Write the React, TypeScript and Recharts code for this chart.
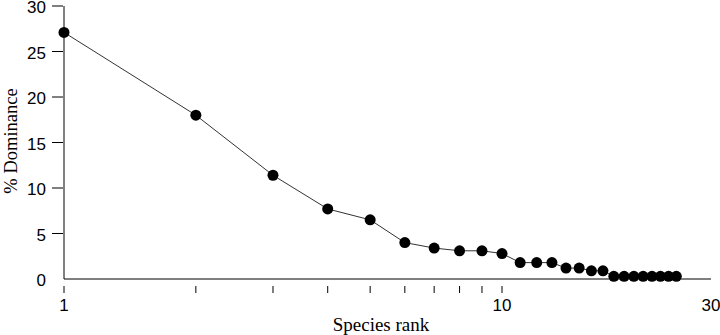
import { Line, LineChart, XAxis, YAxis } from 'recharts';

const ranks = [1, 2, 3, 4, 5, 6, 7, 8, 9, 10, 11, 12, 13, 14, 15, 16, 17, 18, 19, 20, 21, 22, 23, 24, 25];
const dominance = [27.1, 18.0, 11.4, 7.7, 6.5, 4.0, 3.4, 3.1, 3.1, 2.8, 1.8, 1.8, 1.8, 1.2, 1.2, 0.9, 0.9, 0.3, 0.3, 0.3, 0.3, 0.3, 0.3, 0.3, 0.3];
const xTicks = [1, 2, 3, 4, 5, 6, 7, 8, 9, 10, 30];
const xLabelled = [1, 10, 30];
const yTicks = [0, 5, 10, 15, 20, 25, 30];

const data = ranks.map((rank, i) => ({ rank, value: dominance[i] }));

const XTick = (props: any) => {
  const { x, y, payload } = props;
  const v = payload.value;
  return (
    <g>
      {v !== 30 && <line x1={x} x2={x} y1={y - 1} y2={y + 6} stroke="#000" strokeWidth={1} />}
      {xLabelled.includes(v) && (
        <text x={x} y={y + 24} textAnchor="middle" fontFamily="'Liberation Sans', Arial" fontSize={17} fill="#000">
          {v}
        </text>
      )}
    </g>
  );
};

const YTick = (props: any) => {
  const { x, y, payload } = props;
  const v = payload.value;
  return (
    <g>
      {v !== 0 && <line x1={x - 4} x2={x + 7} y1={y} y2={y} stroke="#000" strokeWidth={1} />}
      <text x={x - 10} y={y + 7} textAnchor="end" fontFamily="'Liberation Sans', Arial" fontSize={17} fill="#000">
        {v}
      </text>
    </g>
  );
};

export default function App() {
  return (
    <div style={{ position: 'absolute', left: 0, top: 0, width: 720, height: 335, background: '#fff' }}>
      <LineChart width={720} height={335} data={data} margin={{ top: 6, right: 9, left: 0, bottom: 0 }}>
        <XAxis
          dataKey="rank"
          type="number"
          scale="log"
          domain={[1, 30]}
          ticks={xTicks}
          interval={0}
          height={56}
          axisLine={{ stroke: '#000' }}
          tickLine={false}
          tick={<XTick />}
        />
        <YAxis
          type="number"
          domain={[0, 30]}
          ticks={yTicks}
          interval={0}
          width={64}
          axisLine={{ stroke: '#000' }}
          tickLine={false}
          tick={<YTick />}
        />
        <Line
          dataKey="value"
          stroke="#333"
          strokeWidth={1}
          dot={{ r: 5.5, fill: '#000', stroke: '#000', strokeWidth: 0 }}
          isAnimationActive={false}
        />
        <text x={381} y={331} textAnchor="middle" fontFamily="'Liberation Serif', 'Times New Roman'" fontSize={19} fill="#000">
          Species rank
        </text>
        <text
          x={17}
          y={141}
          textAnchor="middle"
          transform="rotate(-90 17 141)"
          fontFamily="'Liberation Serif', 'Times New Roman'"
          fontSize={18.5}
          fill="#000"
        >
          % Dominance
        </text>
      </LineChart>
    </div>
  );
}
